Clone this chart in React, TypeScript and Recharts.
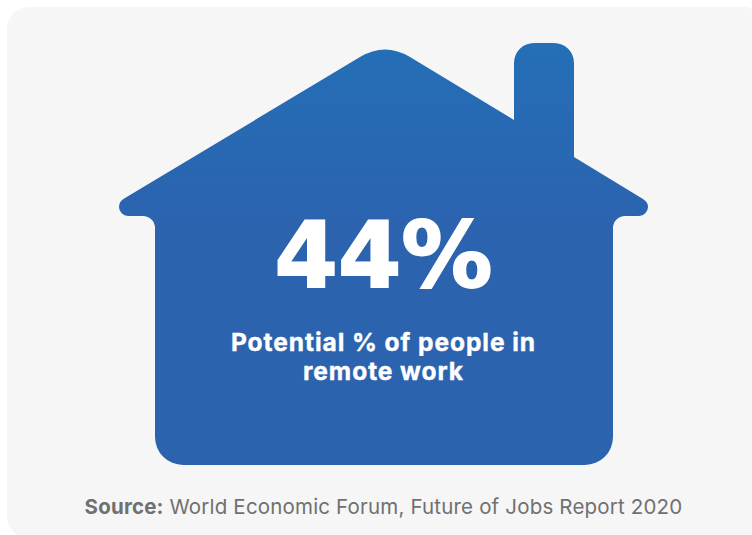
import React from "react";
import { BarChart, Bar, XAxis, YAxis, LabelList } from "recharts";

const categories = ["Potential % of people in remote work"];
const shareValues = [44];
const captionLines = ["Potential % of people in", "remote work"];
const sourceLead = "Source:";
const sourceRest = " World Economic Forum, Future of Jobs Report 2020";

const rows = categories.map((name, i) => ({ name, value: shareValues[i] }));

const UI_FONT = "Inter, 'Open Sans', sans-serif";
const HEAD_FONT = "'DejaVu Sans', Inter, sans-serif";

// House silhouette, fitted to the rectangle the bar scale hands over.
function HouseShape(props: any) {
  const { x, y, width, height } = props;
  const px = (n: number) => x + (n * width) / 529;
  const py = (n: number) => y + (n * height) / 422;
  const P = (a: number, b: number) => `${px(a)} ${py(b)}`;
  const arc = (r: number, a: number, b: number) => `A ${r} ${r} 0 0 1 ${P(a, b)}`;
  const d = [
    `M ${P(6, 155)}`,
    `L ${P(241, 14)}`,
    `Q ${P(266, -1)} ${P(291, 14)}`,
    `L ${P(395, 77)}`,
    `L ${P(395, 20)}`,
    arc(20, 415, 0),
    `L ${P(435, 0)}`,
    arc(20, 455, 20),
    `L ${P(455, 114)}`,
    `L ${P(524, 156)}`,
    `Q ${P(529, 159)} ${P(529, 164)}`,
    arc(9, 520, 173),
    `L ${P(506, 173)}`,
    `A 12 12 0 0 0 ${P(494, 185)}`,
    `L ${P(494, 394)}`,
    arc(28, 466, 422),
    `L ${P(64, 422)}`,
    arc(28, 36, 394),
    `L ${P(36, 185)}`,
    `A 12 12 0 0 0 ${P(24, 173)}`,
    `L ${P(9, 173)}`,
    arc(9, 0, 164),
    `Q ${P(0, 158)} ${P(6, 155)}`,
    "Z",
  ].join(" ");
  return (
    <g>
      <defs>
        <linearGradient id="houseFill" x1="0" y1="0" x2="0" y2="1">
          <stop offset="0" stopColor="#246fb7" />
          <stop offset="0.42" stopColor="#2b63af" />
          <stop offset="1" stopColor="#2b63af" />
        </linearGradient>
      </defs>
      <path d={d} fill="url(#houseFill)" />
      <g
        fontFamily={UI_FONT}
        fontWeight={700}
        fontSize={24.5}
        letterSpacing={0.95}
        fill="#ffffff"
        stroke="#ffffff"
        strokeWidth={0.4}
        textAnchor="middle"
      >
        {captionLines.map((line, i) => (
          <text key={line} x={x + width / 2} y={py(308 + i * 29)}>
            {line}
          </text>
        ))}
      </g>
      <text
        x={x + width / 2}
        y={py(471)}
        textAnchor="middle"
        fontFamily={UI_FONT}
        fontSize={20.5}
        letterSpacing={0.18}
        fill="#707070"
      >
        <tspan fontWeight={700}>{sourceLead}</tspan>
        <tspan fontWeight={400}>{sourceRest}</tspan>
      </text>
    </g>
  );
}

// Headline figure.
function ValueLabel(props: any) {
  const { x, width, y, value } = props;
  return (
    <text
      x={x + width / 2}
      y={y + 244}
      textAnchor="middle"
      fontFamily={HEAD_FONT}
      fontWeight={700}
      fontSize={91}
      fill="#ffffff"
      stroke="#ffffff"
      strokeWidth={2}
    >
      {`${value}%`}
    </text>
  );
}

export default function App() {
  return (
    <div
      style={{
        position: "absolute",
        left: 0,
        top: 0,
        width: 752,
        height: 535,
        overflow: "hidden",
        background: "#ffffff",
      }}
    >
      <div
        style={{
          position: "absolute",
          left: 7,
          top: 7,
          width: 760,
          height: 531,
          borderRadius: 22,
          background: "#f6f6f6",
        }}
      />
      <div style={{ position: "absolute", left: 0, top: 0 }}>
        <BarChart
          width={752}
          height={535}
          data={rows}
          margin={{ top: 43, right: 104, bottom: 70, left: 119 }}
          barCategoryGap={0}
        >
          <XAxis dataKey="name" hide />
          <YAxis hide domain={[0, 44]} />
          <Bar dataKey="value" isAnimationActive={false} shape={<HouseShape />}>
            <LabelList dataKey="value" content={<ValueLabel />} />
          </Bar>
        </BarChart>
      </div>
    </div>
  );
}
